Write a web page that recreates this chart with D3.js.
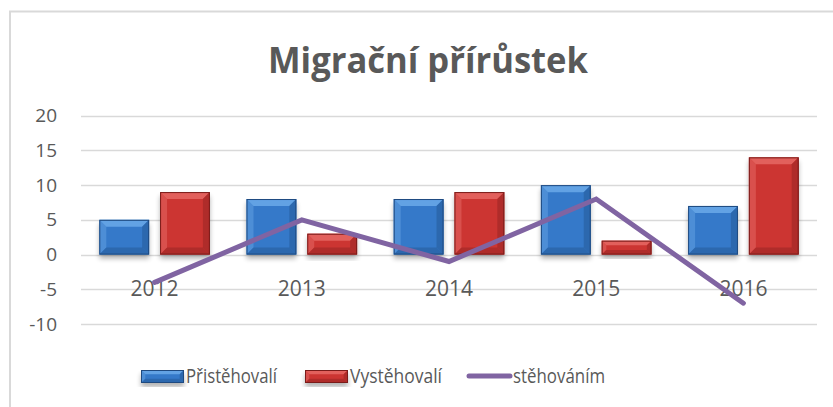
<!DOCTYPE html>
<html>
<head>
<meta charset="utf-8">
<script src="https://cdn.jsdelivr.net/npm/d3@7"></script>
<style>
  body { margin: 0; background: #fff; }
  text { font-family: "Open Sans", "Noto Sans", sans-serif; fill: #595959; }
</style>
</head>
<body>
<div id="chart"></div>
<script>
const years = ["2012", "2013", "2014", "2015", "2016"];
const prist = [5, 8, 8, 10, 7];
const vyst = [9, 3, 9, 2, 14];
const saldo = [-4, 5, -1, 8, -7];
const yTicks = [-10, -5, 0, 5, 10, 15, 20];
const seriesNames = ["Přistěhovalí", "Vystěhovalí", "stěhováním"];

const W = 833, H = 407;
const plot = { left: 81, right: 817, top: 115.7, bottom: 324 };

const svg = d3.select("#chart")
    .append("svg")
    .attr("width", W)
    .attr("height", H);

const defs = svg.append("defs");

// soft shadow under the bars
const f = defs.append("filter").attr("id", "shadow")
    .attr("x", "-20%").attr("y", "-20%").attr("width", "140%").attr("height", "150%");
f.append("feGaussianBlur").attr("in", "SourceAlpha").attr("stdDeviation", 2.5).attr("result", "b");
f.append("feOffset").attr("in", "b").attr("dy", 4).attr("result", "o");
f.append("feComponentTransfer").attr("in", "o").attr("result", "s")
    .append("feFuncA").attr("type", "linear").attr("slope", 0.3);
const fm = f.append("feMerge");
fm.append("feMergeNode").attr("in", "s");
fm.append("feMergeNode").attr("in", "SourceGraphic");

const palette = {
    blue: { base: "#3479c9", light: "#74b0ec", top: "#62a2e4", dark: "#2a64a8", edge: "#1f4a80" },
    red: { base: "#cc3633", light: "#ee7a76", top: "#e2605c", dark: "#a82a28", edge: "#7a1c1a" }
};

// chart frame
svg.append("rect")
    .attr("x", 10).attr("y", 11.5)
    .attr("width", 900).attr("height", 500)
    .attr("fill", "none")
    .attr("stroke", "#d9d9d9")
    .attr("stroke-width", 2);

// title
svg.append("text")
    .attr("x", 428)
    .attr("y", 73)
    .attr("text-anchor", "middle")
    .attr("font-size", 36)
    .attr("font-weight", "bold")
    .attr("textLength", 320)
    .attr("lengthAdjust", "spacingAndGlyphs")
    .text("Migrační přírůstek");

const y = d3.scaleLinear()
    .domain([-10, 20])
    .range([plot.bottom, plot.top]);

const x0 = d3.scaleBand()
    .domain(years)
    .range([plot.left, plot.right]);

const x1 = d3.scaleBand()
    .domain(["p", "v"])
    .range([18.3, x0.bandwidth() - 18.3])
    .paddingInner(0.18);

// gridlines
svg.append("g")
    .selectAll("line")
    .data(yTicks)
    .join("line")
    .attr("x1", plot.left)
    .attr("x2", plot.right)
    .attr("y1", d => Math.round(y(d)) + 0.5)
    .attr("y2", d => Math.round(y(d)) + 0.5)
    .attr("stroke", "#d9d9d9")
    .attr("stroke-width", 1.5);

// y axis labels (plain hyphen for negatives, like the original)
const yAxis = svg.append("g")
    .attr("transform", `translate(${plot.left}, 0)`)
    .call(d3.axisLeft(y).tickValues(yTicks).tickSize(0).tickPadding(24).tickFormat(d => String(d)));
yAxis.select(".domain").remove();
yAxis.selectAll("text")
    .attr("font-size", 19)
    .attr("fill", "#595959")
    .style("font-family", "'Open Sans', sans-serif");

// bars
const barData = [];
years.forEach((yr, i) => {
    barData.push({ year: yr, key: "p", value: prist[i], col: palette.blue });
    barData.push({ year: yr, key: "v", value: vyst[i], col: palette.red });
});

function drawBevelBar(g, bx, by, bw, bh, col) {
    const b = Math.min(7, bh / 3, bw / 4);
    g.append("rect")
        .attr("x", bx).attr("y", by).attr("width", bw).attr("height", bh)
        .attr("fill", col.base)
        .attr("filter", "url(#shadow)");
    // top bevel
    g.append("path")
        .attr("d", `M${bx},${by}L${bx + bw},${by}L${bx + bw - b},${by + b}L${bx + b},${by + b}Z`)
        .attr("fill", col.top);
    // left bevel
    g.append("path")
        .attr("d", `M${bx},${by}L${bx + b},${by + b}L${bx + b},${by + bh - b}L${bx},${by + bh}Z`)
        .attr("fill", col.light).attr("opacity", 0.4);
    // right bevel
    g.append("path")
        .attr("d", `M${bx + bw},${by}L${bx + bw},${by + bh}L${bx + bw - b},${by + bh - b}L${bx + bw - b},${by + b}Z`)
        .attr("fill", col.dark).attr("opacity", 0.8);
    // bottom bevel
    g.append("path")
        .attr("d", `M${bx},${by + bh}L${bx + bw},${by + bh}L${bx + bw - b},${by + bh - b}L${bx + b},${by + bh - b}Z`)
        .attr("fill", col.dark).attr("opacity", 0.8);
    g.append("rect")
        .attr("x", bx + 0.5).attr("y", by + 0.5).attr("width", bw - 1).attr("height", bh - 1)
        .attr("fill", "none")
        .attr("stroke", col.edge)
        .attr("stroke-width", 1);
}

const barsG = svg.append("g");
barData.forEach(d => {
    const bx = x0(d.year) + x1(d.key);
    const by = y(d.value);
    drawBevelBar(barsG.append("g"), bx, by, x1.bandwidth(), y(0) - by, d.col);
});

// category labels
svg.append("g")
    .selectAll("text")
    .data(years)
    .join("text")
    .attr("x", d => x0(d) + x0.bandwidth() / 2)
    .attr("y", 296)
    .attr("text-anchor", "middle")
    .attr("font-size", 21)
    .text(d => d);

// line
const line = d3.line()
    .x((d, i) => x0(years[i]) + x0.bandwidth() / 2)
    .y(d => y(d));

svg.append("path")
    .datum(saldo)
    .attr("d", line)
    .attr("fill", "none")
    .attr("stroke", "#8064a2")
    .attr("stroke-width", 5)
    .attr("stroke-linecap", "round")
    .attr("stroke-linejoin", "miter");

// legend
const legend = svg.append("g");
const legItems = [
    { name: seriesNames[0], type: "bar", col: palette.blue, sx: 141, tx: 186, tw: 91 },
    { name: seriesNames[1], type: "bar", col: palette.red, sx: 305, tx: 350, tw: 92 },
    { name: seriesNames[2], type: "line", sx: 467, tx: 513, tw: 92 }
];
legItems.forEach(it => {
    const g = legend.append("g");
    if (it.type === "bar") {
        drawBevelBar(g, it.sx, 370, 43, 13, it.col);
    } else {
        g.append("line")
            .attr("x1", it.sx + 2).attr("x2", it.sx + 43)
            .attr("y1", 376).attr("y2", 376)
            .attr("stroke", "#8064a2")
            .attr("stroke-width", 5)
            .attr("stroke-linecap", "round");
    }
    g.append("text")
        .attr("x", it.tx)
        .attr("y", 383)
        .attr("font-size", 20)
        .attr("textLength", it.tw)
        .attr("lengthAdjust", "spacingAndGlyphs")
        .text(it.name);
});
</script>
</body>
</html>
